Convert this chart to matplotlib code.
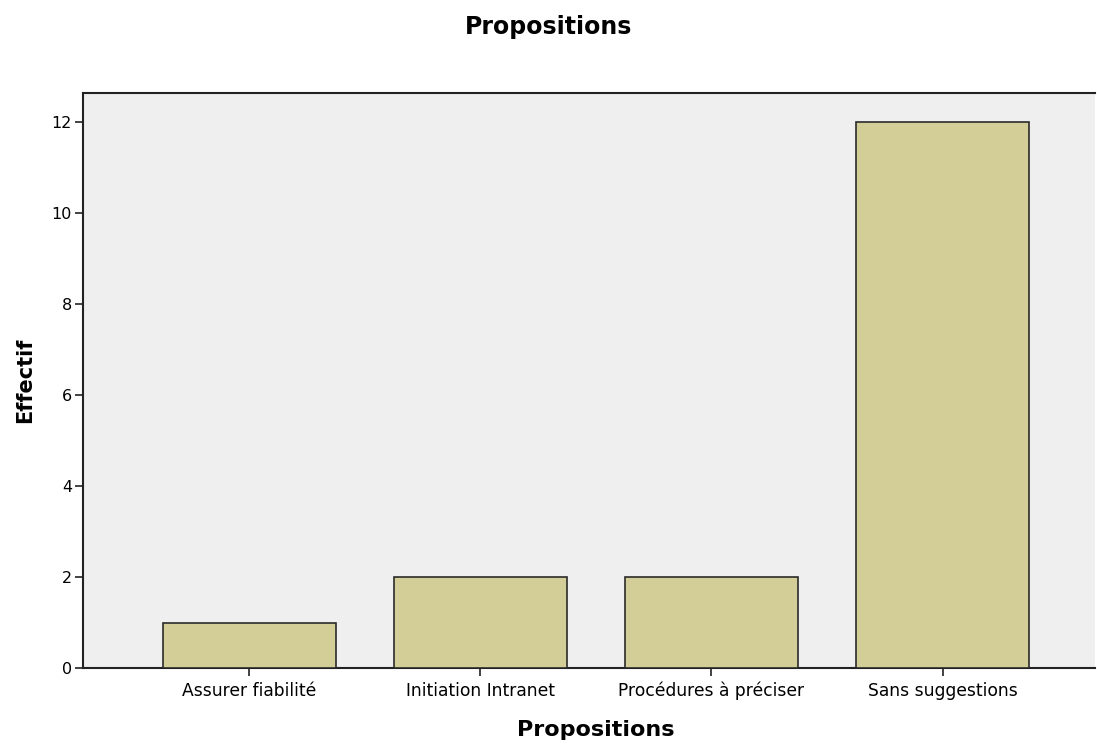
import matplotlib
matplotlib.use("Agg")
import matplotlib.pyplot as plt

categories = ["Assurer fiabilité", "Initiation Intranet", "Procédures à préciser", "Sans suggestions"]
values = [1, 2, 2, 12]
yticks = [0, 2, 4, 6, 8, 10, 12]

plt.rcParams['font.family'] = ['DejaVu Sans']

fig = plt.figure(figsize=(10.97, 7.44), dpi=100)
ax = fig.add_axes([83/1097, 76/744, 1012/1097, 575/744])
ax.set_facecolor('#EFEFEF')
x = list(range(len(categories)))
ax.bar(x, values, width=0.75, color='#D3CE98', edgecolor='#2b2b2b', linewidth=1.2, zorder=3)
ax.set_xlim(-0.72, 3.66)
ax.set_ylim(0, 12.64)
ax.set_yticks(yticks)
ax.set_xticks(x)
ax.set_xticklabels(categories, fontsize=12.3)
ax.tick_params(axis='y', labelsize=11.5, length=6, width=1.2, color='#222222', pad=2)
ax.tick_params(axis='x', length=6, width=1.2, color='#222222', pad=4)
for s in ['left', 'bottom', 'top']:
    ax.spines[s].set_linewidth(1.5)
    ax.spines[s].set_color('#222222')
ax.spines['right'].set_visible(False)
ax.set_xlabel("Propositions", fontsize=16, fontweight='bold')
ax.xaxis.set_label_coords(0.507, -0.090)
ax.set_ylabel("Effectif", fontsize=15, fontweight='bold', labelpad=12)
fig.text(0.5, 1 - 27/744, "Propositions", ha='center', va='center', fontsize=17, fontweight='bold')
fig.savefig("out.png", dpi=100)
